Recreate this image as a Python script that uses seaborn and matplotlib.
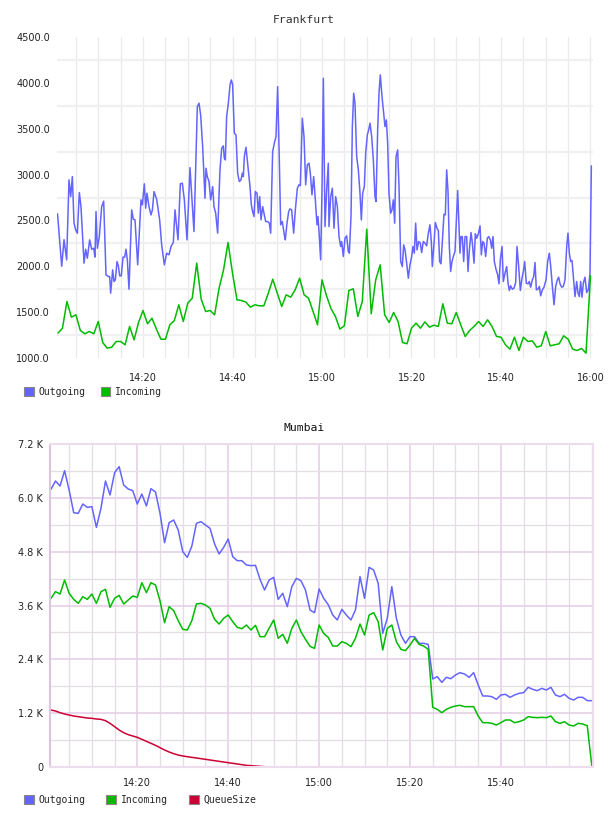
import numpy as np
import pandas as pd
import matplotlib
matplotlib.use("Agg")
import matplotlib.pyplot as plt
from matplotlib.patches import Patch
from matplotlib.ticker import FixedLocator, MultipleLocator, FuncFormatter
import seaborn as sns

# ---- data (minutes after 14:00) ----
# Frankfurt outgoing, irregular samples
fra_out_min = [
    0.9, 1.83, 2.35, 2.94, 3.46, 3.84, 4.21, 4.58, 4.95, 5.33, 5.77, 6.14, 6.82, 7.19, 7.56,
    8.08, 8.53, 8.98, 9.27, 9.5, 9.8, 10.24, 10.76, 11.21, 11.73, 12.25, 12.55, 12.77, 13.22,
    13.52, 13.82, 14.19, 14.49, 14.79, 15.15, 15.53, 15.9, 16.2, 16.5, 16.87, 17.47, 17.84,
    18.21, 18.81, 19.55, 19.85, 20.3, 20.6, 20.89, 21.34, 21.79, 22.1, 22.46, 23.05, 23.72,
    24.17, 24.77, 25.29, 25.81, 26.26, 26.78, 27.15, 27.82, 28.34, 28.79, 29.24, 29.83, 30.5,
    31.39, 32.14, 32.51, 32.88, 33.33, 33.85, 34.08, 34.37, 34.75, 35.12, 35.57, 35.86, 36.24,
    36.68, 37.2, 37.58, 37.95, 38.17, 38.4, 38.69, 39.07, 39.44, 39.74, 40.03, 40.41, 40.78,
    41.15, 41.52, 41.9, 42.19, 42.42, 42.64, 43.01, 43.46, 43.91, 44.21, 44.5, 44.8, 45.1,
    45.47, 45.77, 46.07, 46.37, 46.74, 47.04, 47.41, 47.86, 48.23, 48.53, 48.97, 49.35, 49.72,
    50.09, 50.46, 50.76, 51.13, 51.58, 51.8, 52.18, 52.55, 52.85, 53.22, 53.67, 54.04, 54.49,
    54.86, 55.16, 55.6, 55.98, 56.35, 56.72, 57.09, 57.39, 57.76, 58.14, 58.51, 58.88, 59.1,
    59.4, 59.7, 60.0, 60.3, 60.67, 61.04, 61.41, 61.56, 61.94, 62.31, 62.68, 63.05, 63.43,
    63.8, 64.17, 64.39, 64.77, 65.14, 65.51, 65.88, 66.11, 66.48, 66.78, 67.08, 67.37, 67.75,
    68.12, 68.49, 68.79, 69.09, 69.46, 69.76, 70.13, 70.43, 70.73, 71.1, 71.47, 71.84, 72.07,
    72.44, 72.74, 73.03, 73.41, 73.78, 74.08, 74.38, 74.67, 74.97, 75.34, 75.64, 75.94, 76.24,
    76.54, 76.91, 77.21, 77.58, 77.95, 78.25, 78.55, 78.92, 79.29, 79.66, 80.04, 80.33, 80.63,
    80.93, 81.23, 81.6, 81.97, 82.27, 82.64, 83.02, 83.39, 83.76, 84.13, 84.43, 84.65, 85.03,
    85.33, 85.7, 86.0, 86.29, 86.59, 86.89, 87.26, 87.56, 87.86, 88.16, 88.45, 88.75, 89.05,
    89.35, 89.72, 90.02, 90.32, 90.61, 90.84, 91.06, 91.36, 91.66, 91.96, 92.33, 92.63, 92.93,
    93.3, 93.6, 93.97, 94.27, 94.56, 94.94, 95.31, 95.61, 95.91, 96.2, 96.58, 96.95, 97.25,
    97.62, 97.92, 98.21, 98.51, 98.88, 99.26, 99.55, 99.85, 100.23, 100.52, 100.9, 101.27,
    101.57, 101.86, 102.16, 102.53, 102.91, 103.28, 103.58, 103.95, 104.32, 104.7, 104.99,
    105.29, 105.66, 106.04, 106.33, 106.63, 107.0, 107.3, 107.6, 107.9, 108.27, 108.57, 108.87,
    109.24, 109.61, 110.06, 110.43, 110.8, 111.1, 111.47, 111.85, 112.22, 112.59, 112.89,
    113.19, 113.56, 113.93, 114.3, 114.68, 114.97, 115.27, 115.57, 115.87, 116.17, 116.54,
    116.91, 117.21, 117.51, 117.8, 118.1, 118.4, 118.77, 119.15, 119.52, 119.89, 120.19,
]
fra_out = [
    2572, 2000, 2290, 2070, 2942, 2760, 2978, 2470, 2397, 2360, 2804, 2650, 2034, 2186, 2088,
    2288, 2186, 2197, 2100, 2597, 2197, 2324, 2650, 2710, 1907, 1888, 1888, 1707, 1961,
    1834, 1852, 2052, 2005, 1896, 1896, 2100, 2100, 2186, 2070, 1750, 2615, 2513,
    2506, 2016, 2724, 2670, 2899, 2633, 2797, 2650, 2560, 2615, 2815, 2731, 2506,
    2233, 2016, 2143, 2125, 2215, 2260, 2615, 2288, 2899, 2906, 2724, 2288, 3076,
    2379, 3741, 3778, 3651, 3305, 2742, 3069, 2978, 2924, 2724, 2869, 2651, 2579,
    2361, 3051, 3287, 3313, 3178, 3160, 3632, 3778, 3978, 4032, 3978, 3451, 3433,
    3015, 2924, 2942, 3015, 2978, 3196, 3298, 3087, 2869, 2670, 2597, 2542, 2815,
    2797, 2579, 2760, 2506, 2651, 2579, 2488, 2488, 2470, 2361, 3251, 3342, 3414,
    3959, 3160, 2452, 2488, 2343, 2288, 2470, 2597, 2626, 2615, 2361, 2615, 2851,
    2888, 2880, 3614, 3414, 2888, 3106, 3124, 3015, 2779, 2978, 2724, 2452, 2542,
    2324, 2070, 2833, 4050, 2433, 2833, 3124, 2433, 2760, 2851, 2415, 2760, 2651,
    2324, 2216, 2270, 2107, 2306, 2332, 2161, 2143, 2542, 3523, 3887, 3778, 3196,
    3051, 2797, 2506, 2797, 2869, 3233, 3433, 3487, 3560, 3414, 3160, 2760, 2706,
    3487, 3887, 4087, 3850, 3669, 3523, 3596, 3342, 2797, 2579, 2615, 2724, 2470,
    3196, 3269, 2869, 2052, 1997, 2234, 2179, 2034, 1870, 2016, 2107, 2216, 2143,
    2470, 2179, 2270, 2252, 2150, 2270, 2252, 2223, 2361, 2452, 2270, 1997, 2252,
    2477, 2415, 2390, 2052, 2027, 2270, 2568, 2561, 3051, 2815, 2216, 1943, 2052,
    2107, 2161, 2488, 2826, 2433, 2143, 2324, 2324, 2052, 2324, 2324, 1943, 2179,
    2368, 2252, 2034, 2354, 2306, 2354, 2441, 2125, 2270, 2252, 2107, 2306, 2324,
    2288, 2197, 2324, 2052, 1968, 1907, 1809, 2070, 2216, 1834, 1925, 1997,
    1816, 1736, 1787, 1750, 1761, 1823, 2216, 1997, 1736, 1870, 1943,
    2052, 1816, 1809, 1834, 1772, 1852, 1888, 2041, 1743, 1750, 1780, 1678,
    1743, 1772, 1852, 2052, 2143, 2005, 1787, 1580, 1780, 1852, 1881,
    1809, 1772, 1780, 1852, 2216, 2361, 2143, 2052, 2063, 1888, 1670,
    1834, 1707, 1670, 1834, 1663, 1816, 1881, 1714, 1743, 1925, 3095,
]
# Frankfurt incoming, one sample per minute 14:01..16:00
fra_in = [
    1271, 1325, 1616, 1445, 1471, 1300, 1264, 1289, 1264, 1398,
    1169, 1107, 1118, 1180, 1180, 1144, 1344, 1198, 1387, 1518,
    1373, 1434, 1315, 1205, 1205, 1362, 1409, 1580, 1398, 1598,
    1652, 2034, 1642, 1507, 1518, 1471, 1761, 1961, 2259, 1925,
    1634, 1627, 1609, 1554, 1580, 1569, 1569, 1707, 1859, 1707,
    1562, 1689, 1663, 1743, 1870, 1689, 1652, 1507, 1362, 1852,
    1680, 1540, 1453, 1315, 1351, 1736, 1754, 1453, 1616, 2404,
    1482, 1852, 2016, 1471, 1387, 1496, 1398, 1169, 1155, 1325,
    1380, 1325, 1394, 1336, 1358, 1344, 1591, 1380, 1373, 1496,
    1362, 1235, 1300, 1345, 1398, 1344, 1416, 1344, 1235, 1227,
    1144, 1097, 1227, 1082, 1227, 1180, 1187, 1118, 1133, 1289,
    1133, 1144, 1155, 1242, 1205, 1097, 1082, 1104, 1053, 1896,
]

# Mumbai, one sample per minute 14:01..16:00
mum_out = [
    6189, 6375, 6263, 6605, 6174, 5669, 5654, 5862, 5788, 5803,
    5342, 5766, 6375, 6063, 6561, 6694, 6286, 6197, 6160, 5862,
    6085, 5818, 6204, 6130, 5654, 5000, 5446, 5506, 5283, 4800,
    4673, 4926, 5431, 5468, 5394, 5320, 4971, 4748, 4896, 5082,
    4688, 4599, 4599, 4503, 4488, 4495, 4183, 3945, 4168, 4228,
    3737, 3871, 3574, 4020, 4205, 4153, 3945, 3500, 3440, 3968,
    3760, 3620, 3388, 3277, 3514, 3388, 3277, 3500, 4243, 3760,
    4451, 4391, 4094, 2979, 3314, 4020, 3314, 2942, 2757, 2905,
    2905, 2757, 2757, 2734, 1962, 2014, 1887, 1999, 1969, 2051,
    2103, 2073, 1999, 2103, 1828, 1583, 1583, 1568, 1508, 1605,
    1620, 1553, 1605, 1642, 1657, 1776, 1731, 1701, 1753, 1716,
    1776, 1605, 1568, 1620, 1531, 1493, 1553, 1553, 1479, 1479,
]
mum_in = [
    3760, 3908, 3856, 4168, 3871, 3737, 3648, 3797, 3737, 3856,
    3648, 3908, 3960, 3559, 3760, 3826, 3633, 3722, 3812, 3782,
    4109, 3886, 4109, 4057, 3700, 3217, 3574, 3485, 3262, 3069,
    3054, 3262, 3633, 3648, 3611, 3537, 3291, 3187, 3314, 3388,
    3239, 3113, 3083, 3165, 3054, 3158, 2905, 2905, 3091, 3277,
    2868, 2957, 2757, 3091, 3277, 3017, 2846, 2690, 2645, 3165,
    2979, 2890, 2697, 2697, 2794, 2757, 2682, 2868, 3187, 2942,
    3388, 3440, 3239, 2608, 3091, 3165, 2794, 2623, 2593, 2719,
    2868, 2734, 2697, 2623, 1330, 1285, 1211, 1285, 1330, 1360,
    1375, 1345, 1345, 1345, 1137, 988, 988, 973, 936, 988,
    1048, 1048, 988, 1010, 1048, 1122, 1107, 1100, 1107, 1100,
    1137, 1010, 973, 1010, 936, 914, 973, 958, 921, 30,
]
mum_queue = [
    1270, 1248, 1211, 1181, 1159, 1137, 1122, 1107, 1092, 1085,
    1070, 1062, 1033, 973, 899, 825, 765, 721, 691, 661,
    617, 572, 528, 483, 431, 379, 334, 297, 267, 245,
    230, 215, 201, 186, 171, 156, 141, 126, 111, 97,
    82, 67, 52, 37, 30, 22, 15, 7,
] + [0] * 72

time_ticks = [20, 40, 60, 80, 100, 120]
time_labels = ["14:20", "14:40", "15:00", "15:20", "15:40", "16:00"]

OUT_C = "#6464ff"
IN_C = "#00bb00"
Q_C = "#cc0033"
TXT = "#222222"

sns.set_style("white")
mono = {"family": "DejaVu Sans Mono", "size": 7}

W, H = 608, 816
fig = plt.figure(figsize=(W / 100, H / 100), dpi=100)

# ---------------- Frankfurt ----------------
ax1 = fig.add_axes([57 / W, 1 - 358 / H, 536 / W, 321 / H])
minutes = np.arange(1, len(fra_in) + 1)
df_out = pd.DataFrame({"minute": fra_out_min, "value": fra_out})
df_in = pd.DataFrame({"minute": minutes, "value": fra_in})
sns.lineplot(data=df_out, x="minute", y="value", ax=ax1, color=OUT_C, lw=1.1, estimator=None)
sns.lineplot(data=df_in, x="minute", y="value", ax=ax1, color=IN_C, lw=1.1, estimator=None)

ax1.set_xlim(0.78, 120.56)
ax1.set_ylim(1000, 4500)
ax1.set_xticks(time_ticks)
ax1.set_xticklabels(time_labels)
ax1.xaxis.set_minor_locator(MultipleLocator(5))
ax1.set_yticks(np.arange(1000, 4501, 500))
ax1.yaxis.set_major_formatter(FuncFormatter(lambda v, p: f"{v:.1f}"))
ax1.yaxis.set_minor_locator(FixedLocator(np.arange(1250, 4500, 500)))
ax1.xaxis.grid(True, which="both", color="#eaeaea", lw=0.9)
ax1.yaxis.grid(True, which="minor", color="#f0f0f0", lw=1.6)
ax1.yaxis.grid(False, which="major")
ax1.set_axisbelow(True)
ax1.tick_params(which="both", length=0, labelsize=7, colors=TXT)
ax1.tick_params(axis="x", pad=11)
ax1.tick_params(axis="y", pad=5)
for s in ax1.spines.values():
    s.set_visible(False)
ax1.set_xlabel("")
ax1.set_ylabel("")
fig.text(304 / W, 1 - 20 / H, "Frankfurt", ha="center", va="center",
         family="DejaVu Sans Mono", fontsize=8.2, color="#333333")

h1 = [Patch(facecolor=OUT_C, edgecolor="#888888", lw=0.8),
      Patch(facecolor=IN_C, edgecolor="#888888", lw=0.8)]
fig.legend(h1, ["Outgoing", "Incoming"], loc="center left",
           bbox_to_anchor=(24 / W, 1 - 392 / H), ncol=2, frameon=False, prop=mono,
           handlelength=1.0, handleheight=1.0, handletextpad=0.45,
           columnspacing=1.6, borderpad=0, borderaxespad=0)

# ---------------- Mumbai ----------------
ax2 = fig.add_axes([50 / W, 1 - 767 / H, 543.3 / W, 323 / H])
m2 = np.arange(1, len(mum_out) + 1)
df_m = pd.DataFrame({"minute": m2, "out": mum_out, "in": mum_in, "queue": mum_queue})
sns.lineplot(data=df_m, x="minute", y="out", ax=ax2, color=OUT_C, lw=1.1, estimator=None)
sns.lineplot(data=df_m, x="minute", y="in", ax=ax2, color=IN_C, lw=1.1, estimator=None)
sns.lineplot(data=df_m, x="minute", y="queue", ax=ax2, color=Q_C, lw=1.1, estimator=None,
             clip_on=False)

ax2.set_xlim(0.79, 120.33)
ax2.set_ylim(0, 7200)
ax2.set_xticks(time_ticks[:-1])
ax2.set_xticklabels(time_labels[:-1])
ax2.xaxis.set_minor_locator(MultipleLocator(5))
ax2.set_yticks(np.arange(0, 7201, 1200))
ax2.yaxis.set_major_formatter(FuncFormatter(lambda v, p: "0" if v == 0 else f"{v / 1000:.1f} K"))
ax2.yaxis.set_minor_locator(FixedLocator(np.arange(600, 7200, 1200)))
ax2.grid(True, which="major", color="#e6cce6", lw=1.1)
ax2.grid(True, which="minor", color="#e4dee4", lw=0.9)
ax2.set_axisbelow(True)
ax2.tick_params(which="both", length=0, labelsize=7, colors=TXT)
ax2.tick_params(axis="x", pad=8)
ax2.tick_params(axis="y", pad=5)
for s in ax2.spines.values():
    s.set_color("#ecdcec")
    s.set_linewidth(1.5)
ax2.spines["left"].set_color("#dcc4dc")
ax2.set_xlabel("")
ax2.set_ylabel("")
fig.text(304 / W, 1 - 428 / H, "Mumbai", ha="center", va="center",
         family="DejaVu Sans Mono", fontsize=8.2, color="#111111")

h2 = [Patch(facecolor=OUT_C, edgecolor="#888888", lw=0.8),
      Patch(facecolor=IN_C, edgecolor="#888888", lw=0.8),
      Patch(facecolor=Q_C, edgecolor="#888888", lw=0.8)]
fig.legend(h2, ["Outgoing", "Incoming", "QueueSize"], loc="center left",
           bbox_to_anchor=(24 / W, 1 - 800 / H), ncol=3, frameon=False, prop=mono,
           handlelength=1.0, handleheight=1.0, handletextpad=0.45,
           columnspacing=2.2, borderpad=0, borderaxespad=0)

fig.savefig("out.png", dpi=100)
